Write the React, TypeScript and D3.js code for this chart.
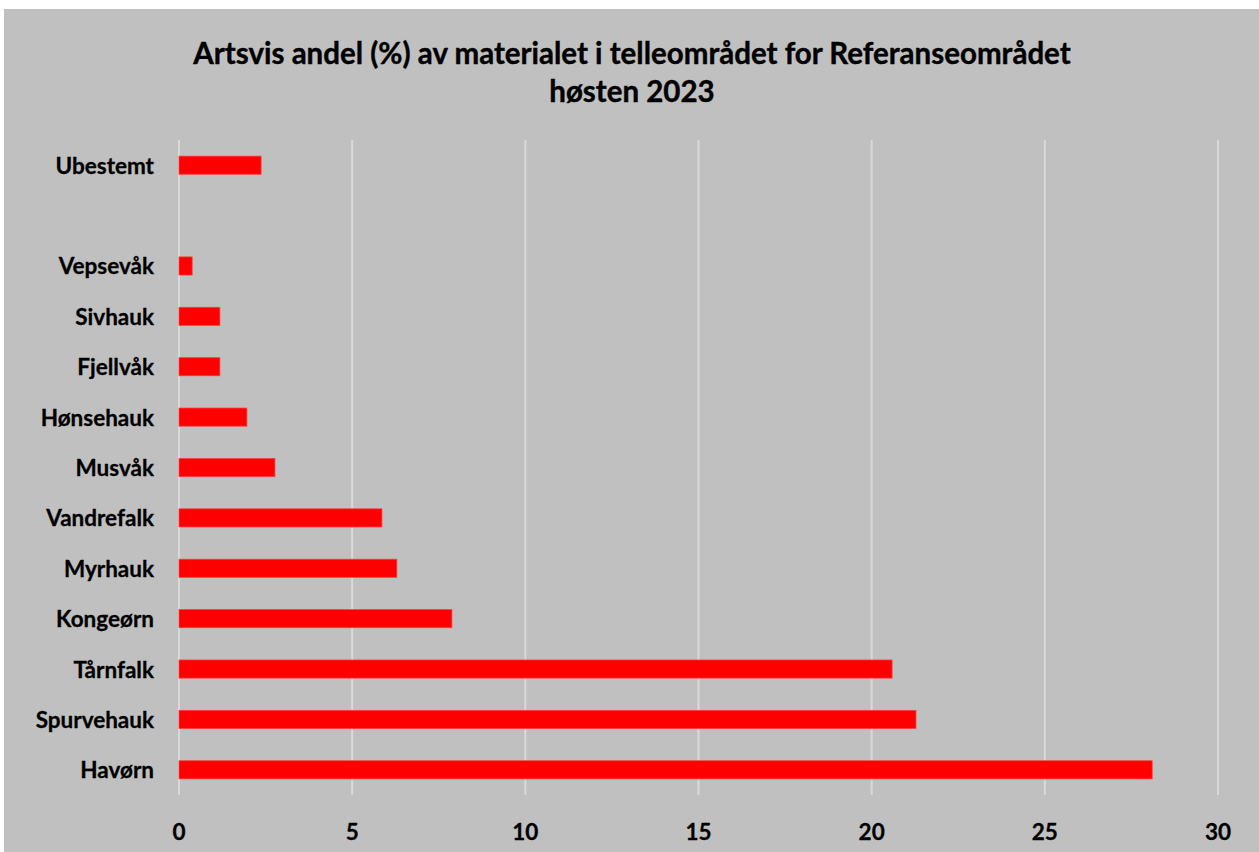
import React from "react";
import * as d3 from "d3";

const categories = ["Ubestemt", "", "Vepsevåk", "Sivhauk", "Fjellvåk", "Hønsehauk", "Musvåk", "Vandrefalk", "Myrhauk", "Kongeørn", "Tårnfalk", "Spurvehauk", "Havørn"];
const values: (number | null)[] = [2.37, null, 0.38, 1.18, 1.18, 1.96, 2.77, 5.86, 6.29, 7.88, 20.59, 21.28, 28.1];
const xTicks = [0, 5, 10, 15, 20, 25, 30];
const titleLines = ["Artsvis andel (%) av materialet i telleområdet for Referanseområdet", "høsten 2023"];

const W = 1259, H = 852;
const FONT = "Lato, 'Open Sans', sans-serif";

export default function App() {
  const x = d3.scaleLinear().domain([0, 30]).range([179, 1218]);
  const y = d3.scaleBand<string>().domain(categories.map((c, i) => i + "")).range([140, 795]).padding(0);
  const bh = y.bandwidth() * 0.36;
  return (
    <svg width={W} height={H} style={{ position: "absolute", left: 0, top: 0 }} fontFamily={FONT}>
      <rect x={0} y={0} width={W} height={H} fill="#ffffff" />
      <rect x={4} y={9} width={W - 4} height={H - 9} fill="#c0c0c0" />
      {titleLines.map((t, i) => (
        <text key={i} x={632} y={52 + i * 38} textAnchor="middle" dominantBaseline="central" fontWeight="bold" fontSize={29.5} fill="#000" stroke="#000" strokeWidth={0.4}>{t}</text>
      ))}
      {xTicks.map((t) => (
        <g key={t}>
          <line x1={x(t)} x2={x(t)} y1={140} y2={795} stroke="#d9d9d9" strokeWidth={2} />
          <text x={x(t)} y={831} textAnchor="middle" dominantBaseline="central" fontWeight="bold" fontSize={22.5} fill="#000" stroke="#000" strokeWidth={0.3}>{t}</text>
        </g>
      ))}
      {categories.map((c, i) => {
        const yc = (y(i + "") as number) + y.bandwidth() / 2;
        const v = values[i];
        return (
          <g key={i}>
            {v != null && (
              <rect x={x(0)} y={yc - bh / 2} width={x(v) - x(0)} height={bh} fill="#ff0000" stroke="#ff3b3b" strokeWidth={0.75} />
            )}
            {c && (
              <text x={154} y={yc} textAnchor="end" dominantBaseline="central" fontWeight="bold" fontSize={22.5} fill="#000" stroke="#000" strokeWidth={0.3}>{c}</text>
            )}
          </g>
        );
      })}
    </svg>
  );
}
